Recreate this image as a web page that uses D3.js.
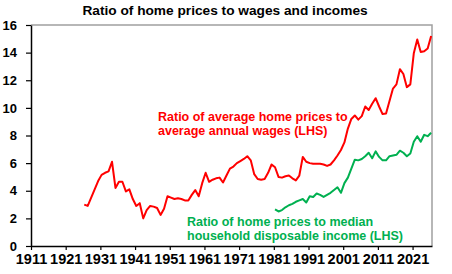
<!DOCTYPE html>
<html lang="en">
<head>
<meta charset="utf-8">
<title>Ratio of home prices to wages and incomes</title>
<script src="https://cdn.jsdelivr.net/npm/d3@7/dist/d3.min.js"></script>
<style>
  body { margin: 0; background: #fff; }
  text { font-family: "Liberation Sans", Arial, sans-serif; font-weight: bold; }
</style>
</head>
<body>
<script>
// ---- data ----
var wageStart = 1926;
var wageRatio = [
  3.0, 2.9, 3.5, 4.1, 4.7, 5.15, 5.3, 5.4, 6.1, 4.2,       // 1926-1935
  4.65, 4.65, 3.95, 4.1, 3.4, 2.9, 3.1, 2.0, 2.6, 2.9,     // 1936-1945
  2.85, 2.75, 2.25, 2.7, 3.6, 3.5, 3.4, 3.45, 3.4, 3.3,    // 1946-1955
  3.3, 3.7, 4.05, 3.6, 4.55, 5.3, 4.65, 4.8, 4.9, 4.95,    // 1956-1965
  4.6, 5.1, 5.6, 5.75, 6.0, 6.15, 6.3, 6.5, 6.2, 5.2,      // 1966-1975
  4.85, 4.8, 4.85, 5.3, 5.9, 5.7, 5.0, 4.95, 5.05, 5.1,    // 1976-1985
  4.9, 4.75, 5.1, 6.45, 6.1, 6.0, 5.95, 5.95, 5.95, 5.9,   // 1986-1995
  5.8, 5.9, 6.2, 6.55, 6.95, 7.5, 8.5, 9.2, 9.45, 9.15,    // 1996-2005
  9.4, 10.1, 9.85, 10.3, 10.7, 10.1, 9.55, 9.6, 10.5, 11.4, // 2006-2015
  11.7, 12.8, 12.45, 11.5, 11.7, 13.95, 14.95, 14.05, 14.1, 14.3, // 2016-2025
  15.2                                                     // 2026
];

var incomeStart = 1981;
var incomeRatio = [
  2.65, 2.5, 2.6, 2.8, 2.95, 3.05, 3.2, 3.3, 3.4, 3.15,    // 1981-1990
  3.6, 3.55, 3.8, 3.7, 3.55, 3.7, 3.85, 4.05, 4.25, 3.85,  // 1991-2000
  4.55, 4.95, 5.6, 6.25, 6.2, 6.3, 6.5, 6.75, 6.35, 6.85,  // 2001-2010
  6.45, 6.2, 6.2, 6.5, 6.55, 6.6, 6.9, 6.75, 6.5, 6.7,     // 2011-2020
  7.55, 7.95, 7.55, 8.05, 7.95, 8.2                        // 2021-2026
];

var yearTicks = [1911, 1921, 1931, 1941, 1951, 1961, 1971, 1981, 1991, 2001, 2011, 2021];
var valueTicks = [0, 2, 4, 6, 8, 10, 12, 14, 16];

var title = "Ratio of home prices to wages and incomes";
var wageLabel = ["Ratio of average home prices to", "average annual wages (LHS)"];
var incomeLabel = ["Ratio of home prices to median", "household disposable income (LHS)"];

// ---- layout ----
var width = 452, height = 274;
var plotL = 31, plotR = 432, plotT = 25, plotB = 246;
var red = "#ff0000", green = "#00b050";

var svg = d3.select("body").append("svg")
    .attr("width", width)
    .attr("height", height);

var x = d3.scaleLinear().domain([1911, 2026.6]).range([plotL, plotR]);
var y = d3.scaleLinear().domain([0, 16]).range([plotB, plotT]);

// frame (top and right in grey)
svg.append("path")
    .attr("d", "M" + plotL + "," + plotT + "H" + plotR + "V" + plotB)
    .attr("fill", "none")
    .attr("stroke", "#a0a0a0")
    .attr("stroke-width", 1.5);

// y axis
var yAxis = svg.append("g")
    .attr("transform", "translate(" + plotL + ",0)")
    .call(d3.axisLeft(y).tickValues(valueTicks).tickSize(5).tickPadding(9).tickSizeOuter(0));
yAxis.selectAll("text").attr("font-size", 13).attr("fill", "#000");

// x axis
var xAxis = svg.append("g")
    .attr("transform", "translate(0," + plotB + ")")
    .call(d3.axisBottom(x).tickValues(yearTicks).tickFormat(d3.format("d")).tickSize(4).tickPadding(4).tickSizeOuter(0));
xAxis.selectAll("text").attr("font-size", 14.5).attr("fill", "#000");

svg.selectAll(".domain").attr("stroke", "#000").attr("stroke-width", 1.5);
svg.selectAll(".tick line").attr("stroke", "#000").attr("stroke-width", 1.2);

// lines
var line = d3.line()
    .x(function(d) { return x(d.year + 0.35); })
    .y(function(d) { return y(d.value); });

var wageData = wageRatio.map(function(v, i) { return {year: wageStart + i, value: v}; });
var incomeData = incomeRatio.map(function(v, i) { return {year: incomeStart + i, value: v}; });

svg.append("path").datum(wageData)
    .attr("d", line)
    .attr("fill", "none")
    .attr("stroke", red)
    .attr("stroke-width", 2)
    .attr("stroke-linejoin", "round");

svg.append("path").datum(incomeData)
    .attr("d", line)
    .attr("fill", "none")
    .attr("stroke", green)
    .attr("stroke-width", 2)
    .attr("stroke-linejoin", "round");

// title
svg.append("text")
    .attr("x", 225)
    .attr("y", 15)
    .attr("text-anchor", "middle")
    .attr("font-size", 13.7)
    .text(title);

// annotations
svg.append("g").selectAll("text")
    .data(wageLabel)
    .enter().append("text")
    .attr("x", 158)
    .attr("y", function(d, i) { return 121 + i * 14; })
    .attr("font-size", 12.5)
    .attr("fill", red)
    .text(function(d) { return d; });

svg.append("g").selectAll("text")
    .data(incomeLabel)
    .enter().append("text")
    .attr("x", 187)
    .attr("y", function(d, i) { return 226 + i * 14; })
    .attr("font-size", 12.5)
    .attr("fill", green)
    .text(function(d) { return d; });
</script>
</body>
</html>
